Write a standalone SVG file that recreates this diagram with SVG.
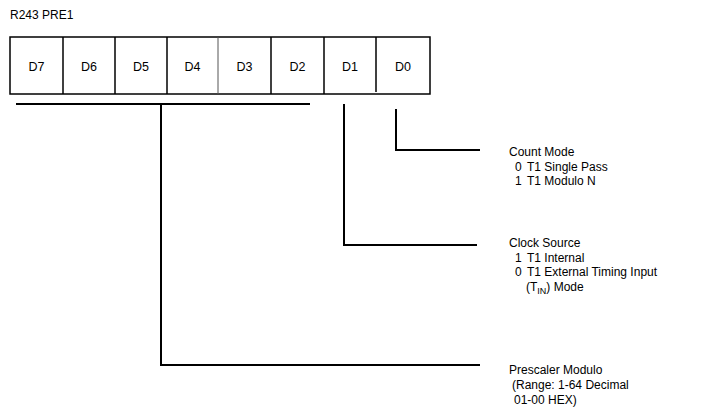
<svg xmlns="http://www.w3.org/2000/svg" width="712" height="414" viewBox="0 0 712 414">
<style>
text{font-family:"Liberation Sans",Arial,sans-serif;font-size:12px;fill:#000}
.cell{fill:#fff;stroke:#000;stroke-width:1.5}
.c{text-anchor:middle;font-size:12.5px}
.w{fill:none;stroke:#000;stroke-width:2}
</style>
<rect width="712" height="414" fill="#fff"/>
<text x="10" y="19" font-size="11">R243 PRE1</text>
<g id="register">
<rect class="cell" x="10" y="37" width="420" height="57"/>
<line x1="63" y1="37" x2="63" y2="94" stroke="#000" stroke-width="1.5"/>
<line x1="115" y1="37" x2="115" y2="94" stroke="#000" stroke-width="1.5"/>
<line x1="167" y1="37" x2="167" y2="94" stroke="#000" stroke-width="1.5"/>
<line x1="218" y1="37" x2="218" y2="94" stroke="#555" stroke-width="1"/>
<line x1="271" y1="37" x2="271" y2="94" stroke="#000" stroke-width="1.5"/>
<line x1="324" y1="37" x2="324" y2="94" stroke="#000" stroke-width="1.5"/>
<line x1="376" y1="37" x2="376" y2="92" stroke="#000" stroke-width="1.5"/>
<text class="c" x="36.5" y="71">D7</text>
<text class="c" x="89" y="71">D6</text>
<text class="c" x="141" y="71">D5</text>
<text class="c" x="192.5" y="71">D4</text>
<text class="c" x="244.5" y="71">D3</text>
<text class="c" x="297.5" y="71">D2</text>
<text class="c" x="350" y="71">D1</text>
<text class="c" x="403" y="71">D0</text>
</g>
<g id="connectors">
<line class="w" x1="16" y1="104" x2="310" y2="104"/>
<polyline class="w" points="161,104 161,365 480,365"/>
<polyline class="w" points="344,104 344,245 477,245"/>
<polyline class="w" points="396,109 396,150 480,150"/>
</g>
<g id="count-mode">
<text x="509" y="156">Count Mode</text>
<text x="515" y="170.5">0<tspan x="527">T1 Single Pass</tspan></text>
<text x="515" y="185">1<tspan x="527">T1 Modulo N</tspan></text>
</g>
<g id="clock-source">
<text x="509" y="247">Clock Source</text>
<text x="515" y="261.5">1<tspan x="527">T1 Internal</tspan></text>
<text x="515" y="276">0<tspan x="527">T1 External Timing Input</tspan></text>
<text x="526" y="291">(T<tspan font-size="9" dy="3">IN</tspan><tspan dy="-3">) Mode</tspan></text>
</g>
<g id="prescaler">
<text x="509" y="374">Prescaler Modulo</text>
<text x="512" y="389">(Range: 1-64 Decimal</text>
<text x="514" y="404">01-00 HEX)</text>
</g>
</svg>
